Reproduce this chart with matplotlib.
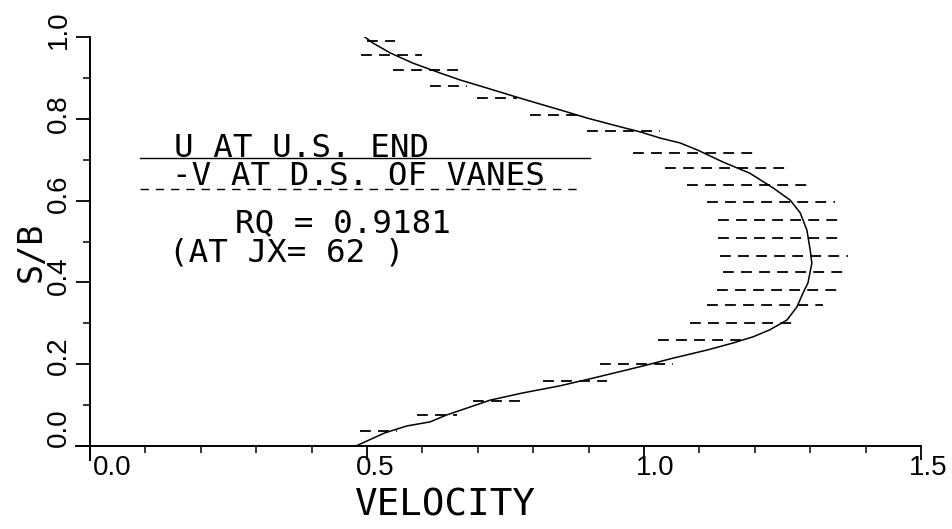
import matplotlib.pyplot as plt
from matplotlib.transforms import offset_copy

# U profile at upstream end (S/B vs velocity)
u_vel = [0.48, 0.532, 0.572, 0.614, 0.644, 0.681, 0.722, 0.782, 0.848, 0.908,
         0.969, 1.005, 1.050, 1.115, 1.161, 1.197, 1.227, 1.258, 1.276, 1.287,
         1.296, 1.303, 1.300, 1.294, 1.282, 1.264, 1.233, 1.191, 1.143, 1.096,
         1.065, 1.029, 0.993, 0.944, 0.897, 0.848, 0.800, 0.758, 0.717, 0.668,
         0.632, 0.583, 0.542, 0.511, 0.496]
u_sb = [0.0, 0.032, 0.049, 0.059, 0.076, 0.093, 0.112, 0.130, 0.147, 0.166,
        0.186, 0.198, 0.214, 0.235, 0.252, 0.267, 0.284, 0.308, 0.340, 0.374,
        0.399, 0.447, 0.479, 0.528, 0.570, 0.601, 0.631, 0.667, 0.694, 0.724,
        0.741, 0.753, 0.768, 0.785, 0.802, 0.822, 0.841, 0.858, 0.875, 0.895,
        0.912, 0.936, 0.961, 0.985, 1.0]

# -V traces at downstream side of vanes (dashed rows)
row_sb = [0.037, 0.075, 0.11, 0.16, 0.20, 0.259, 0.301, 0.345, 0.381, 0.425,
          0.465, 0.509, 0.553, 0.597, 0.638, 0.680, 0.716, 0.77, 0.81, 0.85,
          0.88, 0.92, 0.955, 0.99]
row_v0 = [0.487, 0.590, 0.691, 0.818, 0.921, 1.025, 1.083, 1.114, 1.132, 1.143,
          1.137, 1.134, 1.134, 1.114, 1.078, 1.038, 0.980, 0.897, 0.794, 0.699,
          0.614, 0.547, 0.49, 0.50]
row_v1 = [0.554, 0.662, 0.776, 0.933, 1.052, 1.186, 1.269, 1.323, 1.354, 1.366,
          1.368, 1.359, 1.359, 1.345, 1.305, 1.264, 1.204, 1.029, 0.884, 0.771,
          0.680, 0.668, 0.60, 0.55]

xticks = [0.0, 0.5, 1.0, 1.5]
xlabels = ['0.0', '0.5', '1.0', '1.5']
yticks = [0.0, 0.2, 0.4, 0.6, 0.8, 1.0]
ylabels = ['0.0', '0.2', '0.4', '0.6', '0.8', '1.0']

mono = ['DejaVu Sans Mono']
tickfont = ['Liberation Sans', 'DejaVu Sans']

fig = plt.figure(figsize=(9.52, 5.29), dpi=100)
ax = fig.add_axes([90 / 952, 1 - 446 / 529, 831 / 952, 409 / 529])

ax.plot(u_vel, u_sb, color='k', lw=1.1)
ax.hlines(row_sb, row_v0, row_v1, colors='k', lw=1.3, linestyles=(0, (6, 4)))

ax.set_xlim(0, 1.5)
ax.set_ylim(0, 1.0)
for s in ['top', 'right']:
    ax.spines[s].set_visible(False)
ax.spines['bottom'].set_bounds(-0.025, 1.5)
ax.spines['left'].set_bounds(-0.035, 1.0)
for s in ['bottom', 'left']:
    ax.spines[s].set_linewidth(1.4)

ax.set_xticks([i / 10 for i in range(16)], minor=True)
ax.set_yticks([i / 10 for i in range(11)], minor=True)
ax.set_xticks(xticks)
ax.set_yticks(yticks)
ax.tick_params(which='major', length=10, width=1.3, direction='out', labelbottom=False, labelleft=False)
ax.tick_params(which='minor', length=5, width=1.1, direction='out')

# tick labels drawn by hand so they can sit off-centre like the plotter did
xdx = [22, 8, 11, 7]
for v, lab, dx in zip(xticks, xlabels, xdx):
    tr = offset_copy(ax.get_xaxis_transform(), fig=fig, x=dx, y=-9, units='dots')
    ax.text(v, 0, lab, transform=tr, ha='center', va='top', fontsize=20, family=tickfont)
ydy = [18, 8, 7, 7, 5, 7]
for v, lab, dy in zip(yticks, ylabels, ydy):
    tr = offset_copy(ax.get_yaxis_transform(), fig=fig, x=-31, y=dy, units='dots')
    ax.text(0, v, lab, transform=tr, ha='center', va='center', rotation=90,
            fontsize=20, family=tickfont)

fig.text(445 / 952, 1 - 505 / 529, 'VELOCITY', ha='center', va='center', fontsize=27, family=mono)
fig.text(31 / 952, 1 - 252 / 529, 'S/B', ha='center', va='center', rotation=90, fontsize=24, family=mono)

# legend block
ax.text(0.152, 0.707, 'U AT U.S. END', fontsize=23.4, family=mono, va='baseline')
ax.axhline(0.704, xmin=0.06, xmax=0.602, color='k', lw=1.0)
ax.text(0.148, 0.638, '-V AT D.S. OF VANES', fontsize=23.4, family=mono, va='baseline')
ax.axhline(0.628, xmin=0.06, xmax=0.592, color='k', lw=1.0, ls=(0, (6, 5)))
ax.text(0.262, 0.523, 'RQ = 0.9181', fontsize=23.4, family=mono, va='baseline')
ax.text(0.143, 0.450, '(AT JX= 62 )', fontsize=23.4, family=mono, va='baseline')

fig.savefig('out.png', dpi=100)
